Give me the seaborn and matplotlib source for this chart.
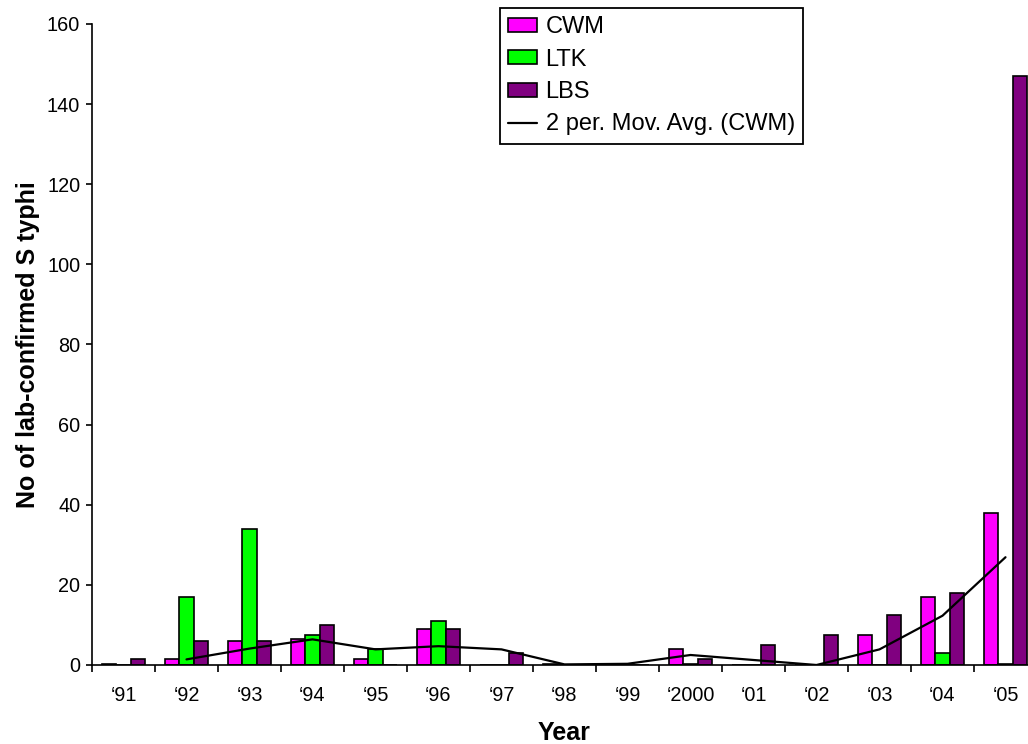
import numpy as np
import pandas as pd
import matplotlib
matplotlib.use("Agg")
import matplotlib.pyplot as plt
import seaborn as sns

# ── Data ──────────────────────────────────────────────────────────────────────
years = ["‘91", "‘92", "‘93", "‘94", "‘95", "‘96", "‘97", "‘98", "‘99",
         "‘2000", "‘01", "‘02", "‘03", "‘04", "‘05"]
sites = ["CWM", "LTK", "LBS"]
cwm = [0.3, 1.5, 6, 6.5, 1.5, 9, 0, 0.3, 0.3, 4, 0, 0, 7.5, 17, 38]
ltk = [0, 17, 34, 7.4, 4, 11, 0, 0, 0, 0.3, 0, 0, 0, 3, 0.3]
lbs = [1.5, 6, 6, 10, 0, 9, 3, 0, 0, 1.5, 5, 7.5, 12.4, 18, 147]

# 2-period moving average of CWM, as drawn (starts at '92)
ma_years = years[1:]
ma_cwm = [1.4, 4.1, 6.4, 3.9, 4.7, 3.9, 0.15, 0.3, 2.5, 1.25, 0, 3.9, 12.3, 26.9]
ma_label = "2 per. Mov. Avg. (CWM)"

colors = ["#FF00FF", "#00FF00", "#800080"]

df = pd.DataFrame({
    "Year": years * 3,
    "Site": [s for s in sites for _ in years],
    "Cases": cwm + ltk + lbs,
})

# ── Style ─────────────────────────────────────────────────────────────────────
sns.set_style("ticks")
plt.rcParams["font.family"] = ["Liberation Sans", "DejaVu Sans"]
plt.rcParams.update({
    "text.color": "black", "axes.labelcolor": "black",
    "xtick.color": "black", "ytick.color": "black",
})
TICK_FS = 14.3
TITLE_FS = 18
LEG_FS = 17

fig = plt.figure(figsize=(10.28, 7.44), dpi=100)
ax = fig.add_axes([92 / 1028, 79 / 744, 945 / 1028, 641 / 744])

sns.barplot(
    data=df, x="Year", y="Cases", hue="Site",
    order=years, hue_order=sites, palette=colors, saturation=1,
    width=0.667, edgecolor="black", linewidth=1.2,
    errorbar=None, ax=ax,
)

ma_pos = [years.index(y) for y in ma_years]
sns.lineplot(x=ma_pos, y=ma_cwm, color="black", lw=1.6, label=ma_label, ax=ax)

ax.set_xlim(-0.5, len(years) - 0.5)
ax.set_ylim(0, 160)
ax.set_yticks(np.arange(0, 161, 20))

# category labels centred, tick marks between categories
ax.set_xticks(range(len(years)))
ax.set_xticklabels(years)
ax.set_xticks(np.arange(-0.5, len(years), 1), minor=True)
ax.tick_params(axis="x", which="major", length=0, pad=15, labelsize=TICK_FS)
ax.tick_params(axis="x", which="minor", length=5, width=1.2, direction="out")
ax.tick_params(axis="y", length=4.5, width=1.2, direction="out", pad=4, labelsize=TICK_FS)

for side in ["top", "right"]:
    ax.spines[side].set_visible(False)
for side in ["left", "bottom"]:
    ax.spines[side].set_linewidth(1.2)
    ax.spines[side].set_color("black")

ax.set_xlabel("Year", fontsize=TITLE_FS, fontweight="bold")
ax.set_ylabel("No of lab-confirmed S typhi", fontsize=TITLE_FS, fontweight="bold")
ax.xaxis.set_label_coords(0.5, -0.087)
ax.yaxis.set_label_coords(-0.055, 0.5)

# ── Legend ────────────────────────────────────────────────────────────────────
handles, labels = ax.get_legend_handles_labels()
order = [labels.index(s) for s in sites] + [labels.index(ma_label)]
leg = ax.legend(
    [handles[i] for i in order], [labels[i] for i in order],
    loc="upper left", bbox_to_anchor=(500 / 1028, 1 - 8 / 744),
    bbox_transform=fig.transFigure, borderaxespad=0,
    fontsize=LEG_FS, frameon=True, fancybox=False, framealpha=1,
    edgecolor="black", handlelength=1.2, handleheight=0.55,
    handletextpad=0.38, labelspacing=0.44, borderpad=0.35,
)
leg.get_frame().set_linewidth(1.3)

fig.savefig("out.png", dpi=100)
